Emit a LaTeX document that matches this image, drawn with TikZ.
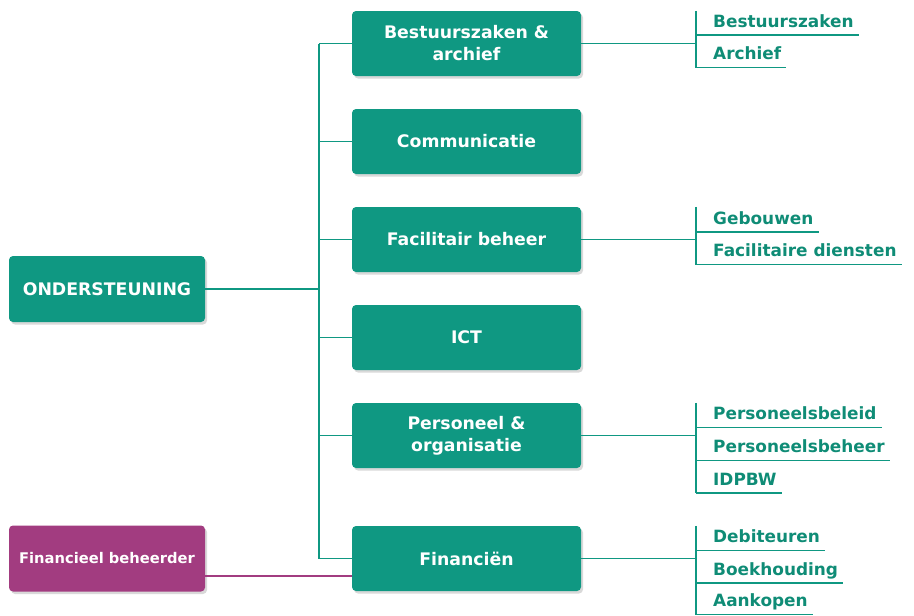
\documentclass[tikz,border=0pt]{standalone}
\usepackage{fontspec}
\setmainfont{DejaVu Sans}
\usetikzlibrary{shadows}
\definecolor{teal1}{HTML}{0F9882}
\definecolor{tealtxt}{HTML}{0F8C76}
\definecolor{purp}{HTML}{A23C80}
\begin{document}
\begin{tikzpicture}[x=1pt,y=-1pt,
  box/.style={fill=teal1, rounded corners=4pt, minimum width=229pt, minimum height=65pt,
    text=white, font=\fontsize{17.3}{22}\selectfont\bfseries, align=center, inner sep=0pt,
    drop shadow={opacity=0.3, shadow xshift=2pt, shadow yshift=-2.5pt}},
  leftbox/.style={box, minimum width=196pt, minimum height=66pt},
  pbox/.style={leftbox, fill=purp, font=\fontsize{14.7}{18}\selectfont\bfseries},
  item/.style={anchor=south west, inner sep=0pt, text depth=7.5pt, text=tealtxt,
    font=\fontsize{16.9}{20}\selectfont\bfseries},
  gline/.style={draw=teal1, line width=1.8pt},
  pline/.style={draw=purp, line width=1.8pt}]
\useasboundingbox (0,0) rectangle (914,616);

% left boxes
\node[leftbox] (ond) at (107,289) {ONDERSTEUNING};
\node[pbox] (fb) at (107,558.5) {Financieel beheerder};

% middle boxes
\node[box] (b1) at (466.5,43.5) {Bestuurszaken \&\\archief};
\node[box] (b2) at (466.5,141.5) {Communicatie};
\node[box] (b3) at (466.5,239.5) {Facilitair beheer};
\node[box] (b4) at (466.5,337.5) {ICT};
\node[box] (b5) at (466.5,435.5) {Personeel \&\\organisatie};
\node[box] (b6) at (466.5,558.5) {Financiën};

% trunk
\coordinate (tx) at (319,0);
\draw[gline] (ond.east) -- (ond.east -| tx);
\draw[gline] (b1.west -| tx) -- (b6.west -| tx);
\foreach \b in {b1,b2,b3,b4,b5,b6} \draw[gline] (\b.west -| tx) -- (\b.west);

% purple connector
\coordinate (pl) at ([yshift=-17.5pt]fb.east);
\draw[pline] (pl) -- (pl -| b6.west);

% right items
\node[item] (i11) at (696,35) {\hspace*{17pt}Bestuurszaken\hspace*{5pt}};
\node[item] (i12) at (696,67.5) {\hspace*{17pt}Archief\hspace*{5pt}};
\node[item] (i31) at (696,232) {\hspace*{17pt}Gebouwen\hspace*{5pt}};
\node[item] (i32) at (696,264.5) {\hspace*{17pt}Facilitaire diensten\hspace*{5pt}};
\node[item] (i51) at (696,427.5) {\hspace*{17pt}Personeelsbeleid\hspace*{5pt}};
\node[item] (i52) at (696,460.5) {\hspace*{17pt}Personeelsbeheer\hspace*{5pt}};
\node[item] (i53) at (696,493) {\hspace*{17pt}IDPBW\hspace*{5pt}};
\node[item] (i61) at (696,550.5) {\hspace*{17pt}Debiteuren\hspace*{5pt}};
\node[item] (i62) at (696,583) {\hspace*{17pt}Boekhouding\hspace*{5pt}};
\node[item] (i63) at (696,614.5) {\hspace*{17pt}Aankopen\hspace*{5pt}};

\foreach \i in {i11,i12,i31,i32,i51,i52,i53,i61,i62,i63}
  \draw[gline] (\i.south west) -- (\i.south east);

% brackets
\draw[gline] (i11.south west |- b1.north) -- (i12.south west);
\draw[gline] (i31.south west |- b3.north) -- (i32.south west);
\draw[gline] (i51.south west |- b5.north) -- (i53.south west);
\draw[gline] (i61.south west |- b6.north) -- (i63.south west);

% box to bracket
\draw[gline] (b1.east) -- (b1.east -| i11.south west);
\draw[gline] (b3.east) -- (b3.east -| i31.south west);
\draw[gline] (b5.east) -- (b5.east -| i51.south west);
\draw[gline] (b6.east) -- (b6.east -| i61.south west);
\end{tikzpicture}
\end{document}
